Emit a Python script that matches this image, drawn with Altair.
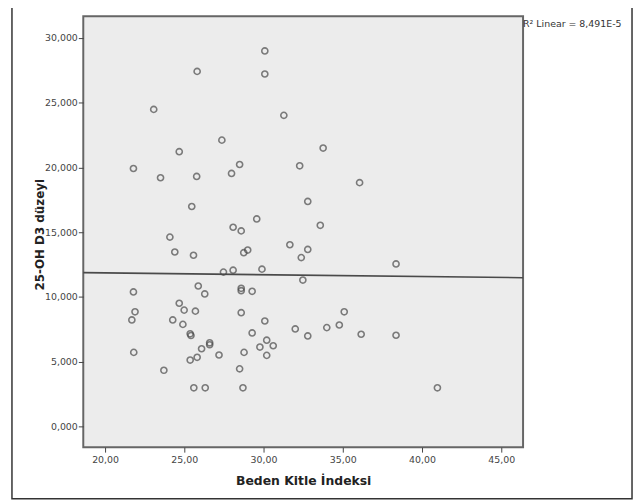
import altair as alt
import pandas as pd

# Beden Kitle İndeksi (BMI) values
bmi = [30.08, 25.81, 30.08, 23.07, 31.28, 27.37, 33.76, 24.68, 21.79, 28.49,
       32.28, 23.50, 25.78, 27.98, 36.06, 32.79, 25.47, 29.57, 33.58, 28.08,
       28.59, 24.09, 31.66, 24.40, 29.00, 28.75, 32.79, 25.58, 32.38, 38.36,
       27.47, 28.08, 29.90, 32.48, 21.79, 25.88, 26.29, 28.59, 28.59, 29.28,
       21.89, 21.69, 24.68, 24.99, 25.70, 28.59, 35.09, 24.27, 24.91, 30.08,
       32.00, 33.99, 34.78, 25.37, 25.42, 29.28, 32.79, 36.16, 38.36, 26.60,
       26.60, 26.09, 30.20, 29.77, 30.61, 28.77, 21.81, 27.19, 25.81, 30.20,
       25.37, 23.71, 28.49, 25.60, 26.32, 28.70, 40.97]

# 25-OH D3 düzeyi values
d3 = [28.98, 27.40, 27.20, 24.47, 24.01, 22.10, 21.49, 21.21, 19.91, 20.22,
      20.12, 19.20, 19.30, 19.53, 18.82, 17.37, 16.98, 16.02, 15.53, 15.38,
      15.10, 14.62, 14.03, 13.47, 13.62, 13.42, 13.67, 13.22, 13.04, 12.55,
      11.92, 12.07, 12.15, 11.31, 10.39, 10.85, 10.24, 10.67, 10.49, 10.44,
      8.86, 8.23, 9.52, 8.99, 8.91, 8.79, 8.86, 8.23, 7.89, 8.15,
      7.54, 7.64, 7.84, 7.16, 7.03, 7.23, 7.00, 7.13, 7.05, 6.47,
      6.32, 6.01, 6.67, 6.14, 6.24, 5.73, 5.73, 5.53, 5.35, 5.50,
      5.14, 4.35, 4.46, 3.00, 3.00, 3.00, 3.00]

# Linear fit line (endpoints read at the plot edges)
fit_x = [18.625, 46.375]
fit_y = [11.88, 11.49]

x_ticks = [20, 25, 30, 35, 40, 45]
y_ticks = [0, 5, 10, 15, 20, 25, 30]
x_domain = [18.625, 46.375]
y_domain = [-1.58, 31.65]

x_title = "Beden Kitle İndeksi"
y_title = "25-OH D3 düzeyi"
r2_label = "R² Linear = 8,491E-5"

FONT = "DejaVu Sans"

pts = pd.DataFrame({"bki": bmi, "d3": d3})
fit = pd.DataFrame({"bki": fit_x, "d3": fit_y})
one = pd.DataFrame({"t": [r2_label]})

xscale = alt.Scale(domain=x_domain, nice=False, zero=False)
yscale = alt.Scale(domain=y_domain, nice=False, zero=False)

x_axis = alt.Axis(
    values=x_ticks,
    labelExpr="replace(format(datum.value, '.2f'), '.', ',')",
    title=x_title, titleFont=FONT, titleFontSize=12.5, titleFontWeight="bold",
    titleColor="#222", titleX=222, titleY=34, titleBaseline="middle",
    titleAnchor="middle",
    labelFont=FONT, labelFontSize=9.5, labelColor="#444", labelPadding=2,
    tickSize=5, tickColor="#444", domain=False, grid=False,
)
y_axis = alt.Axis(
    values=y_ticks,
    labelExpr="replace(format(datum.value, '.3f'), '.', ',')",
    title=y_title, titleFont=FONT, titleFontSize=12, titleFontWeight="bold",
    titleColor="#222", titleX=-44, titleY=220, titleBaseline="middle",
    titleAngle=270, titleAnchor="middle",
    labelFont=FONT, labelFontSize=9.5, labelColor="#444", labelPadding=1,
    tickSize=5, tickColor="#444", domain=False, grid=False,
)

points = alt.Chart(pts).mark_point(
    shape="circle", filled=False, size=38, strokeWidth=1.6, color="#4a4a4a"
).encode(
    x=alt.X("bki:Q", scale=xscale, axis=x_axis),
    y=alt.Y("d3:Q", scale=yscale, axis=y_axis),
)

line = alt.Chart(fit).mark_line(color="#4a4a4a", strokeWidth=1.6).encode(
    x=alt.X("bki:Q", scale=xscale),
    y=alt.Y("d3:Q", scale=yscale),
)

r2 = alt.Chart(one).mark_text(
    align="left", baseline="middle", font=FONT, fontSize=9.5, color="#333"
).encode(
    x=alt.value(444), y=alt.value(8), text="t:N"
)

border = alt.Chart(one).mark_rect(
    fillOpacity=0, stroke="#333", strokeWidth=1.5
).encode(
    x=alt.value(-72), x2=alt.value(554), y=alt.value(-12), y2=alt.value(487)
)

chart = alt.layer(line, points, r2, border).properties(
    width=444, height=435,
    padding={"left": 76, "top": 6, "right": 112, "bottom": 55},
    autosize=alt.AutoSizeParams(type="none"),
    background="white",
).configure_view(
    fill="#ececec", stroke="#666666", strokeWidth=2
)

chart.save("out.html", embed_options={"renderer": "svg", "actions": False})
